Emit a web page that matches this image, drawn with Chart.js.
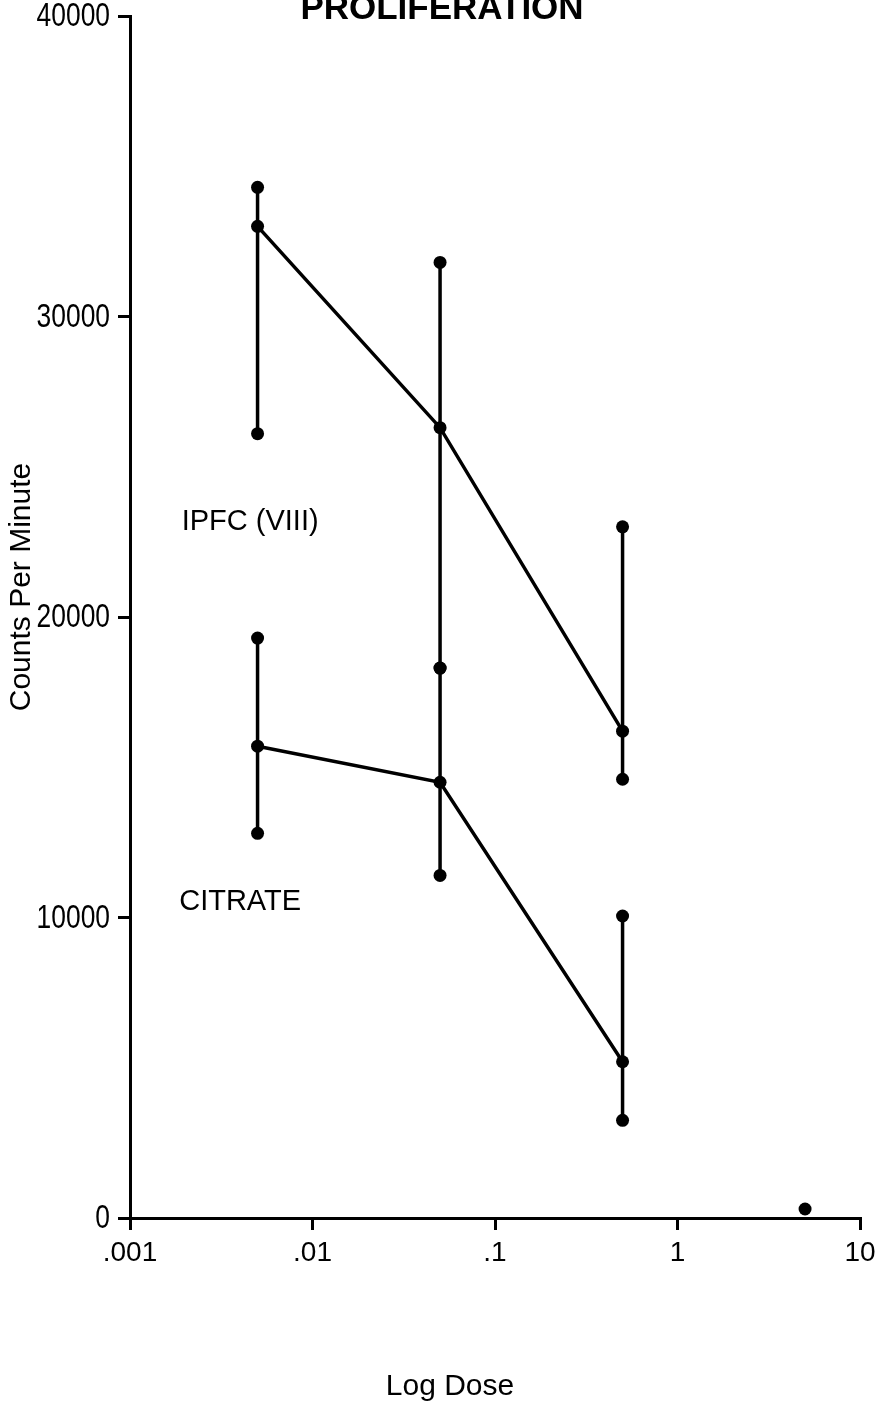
<!DOCTYPE html>
<html>
<head>
<meta charset="utf-8">
<script src="https://cdn.jsdelivr.net/npm/chart.js@4/dist/chart.umd.min.js"></script>
<style>
  body { margin: 0; background: #fff; }
  canvas { display: block; }
</style>
</head>
<body>
<canvas id="chart" width="886" height="1409"></canvas>
<script>
// dose levels (log scale)
const doses = [0.005, 0.05, 0.5];

const ipfcMean = [33000, 26300, 16200];
const ipfcUpper = [34300, 31800, 23000];
const ipfcLower = [26100, 18300, 14600];

const citrateMean = [15700, 14500, 5200];
const citrateUpper = [19300, 18300, 10050];
const citrateLower = [12800, 11400, 3250];

// lone point at the highest dose
const highDose = [5];
const highDoseValue = [300];

const xTickValues = [0.001, 0.01, 0.1, 1, 10];
const xTickLabels = ['.001', '.01', '.1', '1', '10'];

const seriesLabels = ['IPFC (VIII)', 'CITRATE'];
const seriesLabelX = [0.00192, 0.00186];
const seriesLabelY = [23150, 10500];

const pts = (xs, ys) => xs.map((x, i) => ({ x: x, y: ys[i] }));

const lineStyle = {
    borderColor: '#000',
    backgroundColor: '#000',
    borderWidth: 3.5,
    pointRadius: 6.5,
    pointHoverRadius: 6.5,
    pointBorderWidth: 0,
    showLine: true,
    tension: 0,
};

const datasets = [
    Object.assign({ label: 'IPFC (VIII)', data: pts(doses, ipfcMean) }, lineStyle),
    Object.assign({ label: 'CITRATE', data: pts(doses, citrateMean) }, lineStyle),
    Object.assign({ label: 'high dose', data: pts(highDose, highDoseValue) }, lineStyle, { showLine: false }),
];

// vertical error bars, one small dataset each
doses.forEach((d, i) => {
    datasets.push(Object.assign({ label: 'ipfc bar', data: [{ x: d, y: ipfcLower[i] }, { x: d, y: ipfcUpper[i] }] }, lineStyle));
    datasets.push(Object.assign({ label: 'citrate bar', data: [{ x: d, y: citrateLower[i] }, { x: d, y: citrateUpper[i] }] }, lineStyle));
});

const textPlugin = {
    id: 'texts',
    afterDraw(chart) {
        const c = chart.ctx;
        const xs = chart.scales.x, ys = chart.scales.y;
        c.save();
        c.fillStyle = '#000';

        // y tick labels, condensed like the original typeface
        c.font = '33px "Liberation Sans", Arial, sans-serif';
        c.textAlign = 'right';
        c.textBaseline = 'middle';
        ys.ticks.forEach(t => {
            const y = ys.getPixelForValue(t.value);
            c.save();
            c.translate(110, y + 1);
            c.scale(0.8, 1);
            c.fillText(String(t.value), 0, 0);
            c.restore();
        });

        // title, clipped at the top edge like the scan
        c.font = 'bold 35px "Liberation Sans", Arial, sans-serif';
        c.textAlign = 'center';
        c.textBaseline = 'alphabetic';
        c.fillText('PROLIFERATION', 442, 19);

        // series labels
        c.font = '29px "Liberation Sans", Arial, sans-serif';
        c.textAlign = 'left';
        c.textBaseline = 'middle';
        seriesLabels.forEach((t, i) => {
            c.fillText(t, xs.getPixelForValue(seriesLabelX[i]), ys.getPixelForValue(seriesLabelY[i]));
        });

        // axis titles
        c.font = '30px "Liberation Sans", Arial, sans-serif';
        c.textAlign = 'center';
        c.fillText('Log Dose', 450, 1387);

        c.translate(22, 587);
        c.rotate(-Math.PI / 2);
        c.font = '30px "Liberation Sans", Arial, sans-serif';
        c.fillText('Counts Per Minute', 0, 0);
        c.restore();
    }
};

const ctx = document.getElementById('chart').getContext('2d');
const chart = new Chart(ctx, {
    type: 'scatter',
    data: { datasets: datasets },
    options: {
        responsive: false,
        animation: false,
        layout: { padding: { top: 16, right: 26, left: 0, bottom: 0 } },
        plugins: {
            legend: { display: false },
            tooltip: { enabled: false },
        },
        scales: {
            x: {
                type: 'logarithmic',
                min: 0.001,
                max: 10,
                afterBuildTicks: (s) => { s.ticks = xTickValues.map(v => ({ value: v })); },
                afterFit: (s) => {
                    s.height = 1409 - 1218;
                    s.paddingLeft = 0; s.paddingRight = 0;
                },
                border: { display: true, color: '#000', width: 3 },
                grid: { drawOnChartArea: false, drawTicks: true, tickLength: 12, color: '#000', lineWidth: 3 },
                ticks: {
                    color: '#000',
                    padding: 6,
                    maxRotation: 0,
                    autoSkip: false,
                    font: { family: '"Liberation Sans", Arial, sans-serif', size: 28 },
                    callback: (v) => xTickLabels[xTickValues.indexOf(v)],
                },
            },
            y: {
                min: 0,
                max: 40000,
                afterFit: (s) => {
                    s.width = 130;
                    s.paddingTop = 0; s.paddingBottom = 0;
                },
                border: { display: true, color: '#000', width: 3 },
                grid: { drawOnChartArea: false, drawTicks: true, tickLength: 12, color: '#000', lineWidth: 3 },
                ticks: {
                    stepSize: 10000,
                    display: false,
                },
            },
        },
    },
    plugins: [textPlugin],
});
</script>
</body>
</html>
